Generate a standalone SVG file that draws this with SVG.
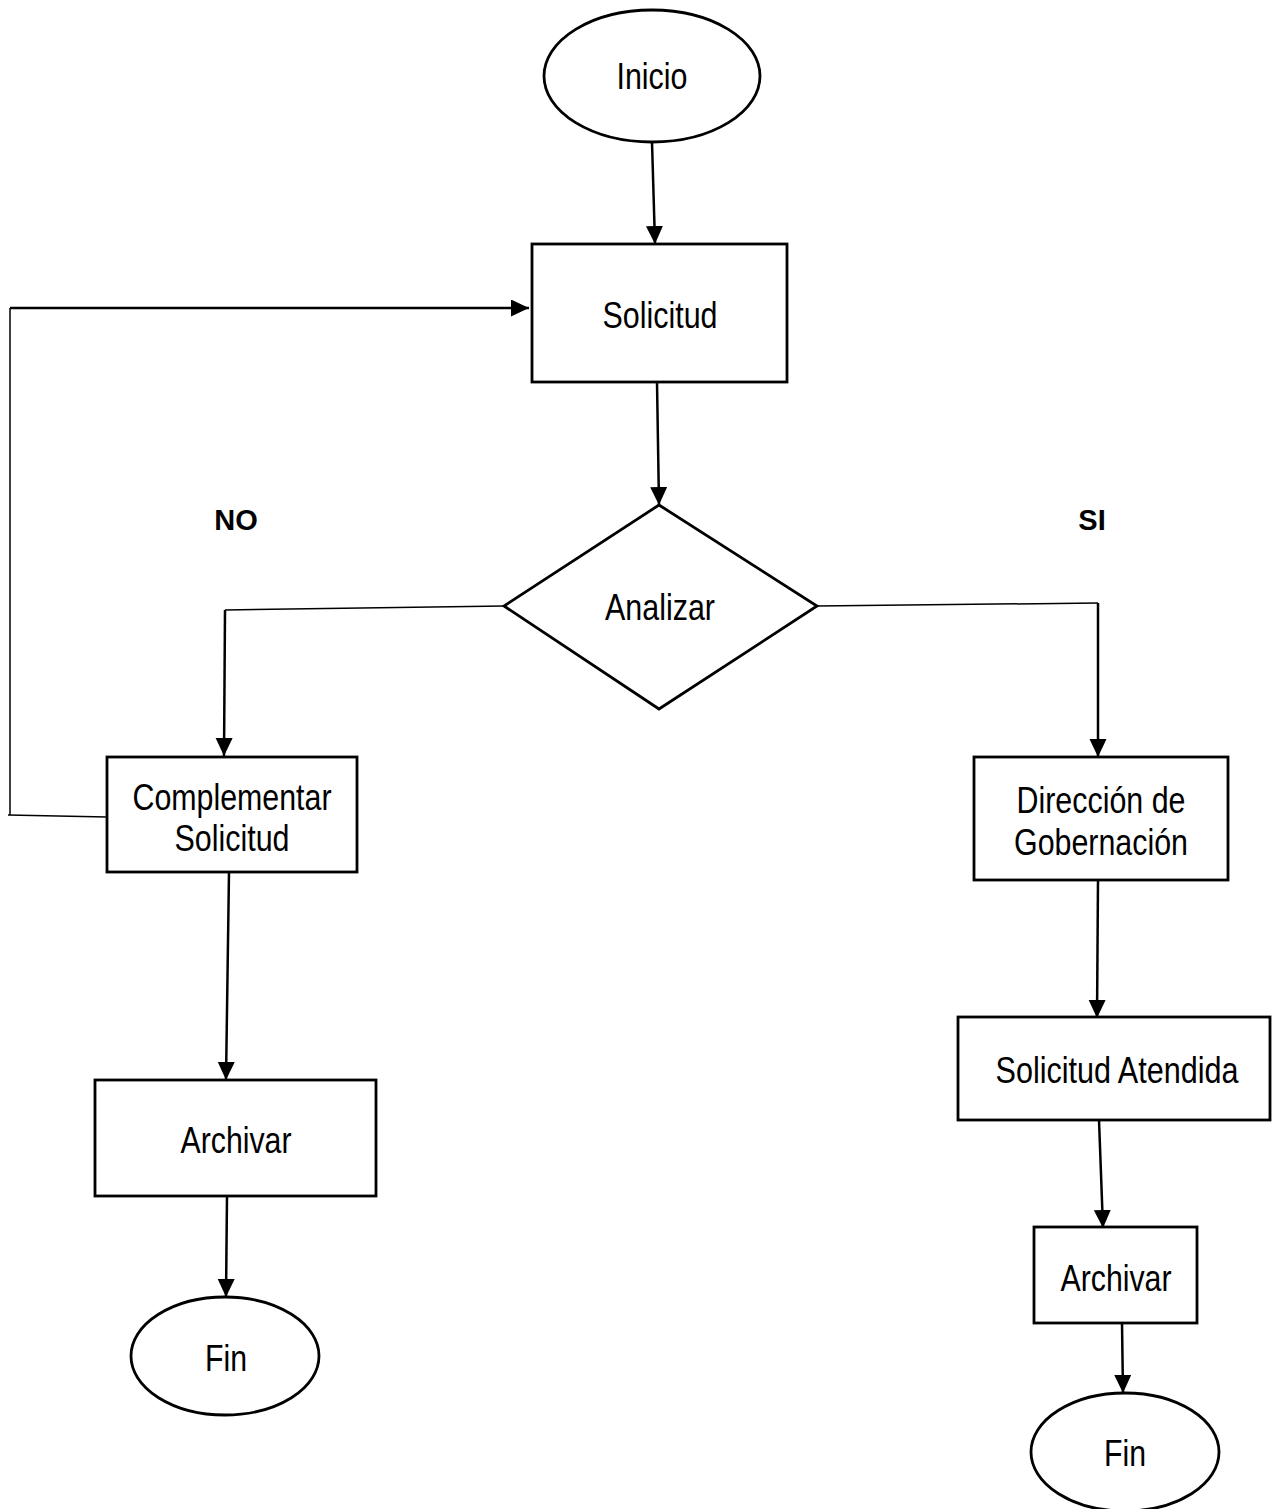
<svg xmlns="http://www.w3.org/2000/svg" width="1272" height="1509" viewBox="0 0 1272 1509">
<style>
.shape{fill:#fff;stroke:#000;stroke-width:2.8}
.t{font-family:"Liberation Sans Narrow","Liberation Sans",Arial,sans-serif;font-size:37px;fill:#000;text-anchor:middle;dominant-baseline:central}
.lbl{font-family:"Liberation Sans",Arial,sans-serif;font-size:29px;font-weight:bold;fill:#000;text-anchor:middle;dominant-baseline:central}
.c{fill:none;stroke:#000;stroke-width:2.5}
.thin{fill:none;stroke:#000;stroke-width:1.5}
</style>
<defs>
<marker id="ah" markerUnits="userSpaceOnUse" markerWidth="20" markerHeight="18" refX="18" refY="8.5" orient="auto">
<path d="M0,0 L18,8.5 L0,17 Z" fill="#000"/>
</marker>
</defs>
<rect width="1272" height="1509" fill="#fff"/>
<g id="connectors">
<line class="c" x1="652" y1="142" x2="655" y2="244" marker-end="url(#ah)"/>
<line class="c" x1="657" y1="382" x2="659" y2="505" marker-end="url(#ah)"/>
<polyline class="thin" points="504,606 225,610"/>
<line class="c" x1="225" y1="610" x2="224" y2="756" marker-end="url(#ah)"/>
<polyline class="thin" points="107,817 8,815"/>
<polyline class="thin" points="10,815 10,308"/>
<line class="c" x1="10" y1="308" x2="529" y2="308" marker-end="url(#ah)"/>
<line class="c" x1="229" y1="872" x2="226" y2="1080" marker-end="url(#ah)"/>
<line class="c" x1="227" y1="1196" x2="226" y2="1297" marker-end="url(#ah)"/>
<polyline class="thin" points="817,606 1098,603"/>
<line class="c" x1="1098" y1="603" x2="1098" y2="757" marker-end="url(#ah)"/>
<line class="c" x1="1098" y1="880" x2="1097" y2="1018" marker-end="url(#ah)"/>
<line class="c" x1="1099" y1="1120" x2="1103" y2="1228" marker-end="url(#ah)"/>
<line class="c" x1="1122" y1="1323" x2="1123" y2="1393" marker-end="url(#ah)"/>
</g>
<g id="inicio">
<ellipse class="shape" cx="652" cy="76" rx="108" ry="66"/>
<text class="t" x="652" y="76" textLength="71" lengthAdjust="spacingAndGlyphs">Inicio</text>
</g>
<g id="solicitud">
<rect class="shape" x="532" y="244" width="255" height="138"/>
<text class="t" x="660" y="315" textLength="115" lengthAdjust="spacingAndGlyphs">Solicitud</text>
</g>
<g id="analizar">
<polygon class="shape" points="659,505 817,606 659,709 504,606"/>
<text class="t" x="660" y="607" textLength="110" lengthAdjust="spacingAndGlyphs">Analizar</text>
</g>
<g id="label-no"><text class="lbl" x="236" y="520">NO</text></g>
<g id="label-si"><text class="lbl" x="1092" y="520">SI</text></g>
<g id="complementar">
<rect class="shape" x="107" y="757" width="250" height="115"/>
<text class="t" x="232" y="797" textLength="199" lengthAdjust="spacingAndGlyphs">Complementar</text>
<text class="t" x="232" y="838" textLength="115" lengthAdjust="spacingAndGlyphs">Solicitud</text>
</g>
<g id="archivar-left">
<rect class="shape" x="95" y="1080" width="281" height="116"/>
<text class="t" x="236" y="1140" textLength="111" lengthAdjust="spacingAndGlyphs">Archivar</text>
</g>
<g id="fin-left">
<ellipse class="shape" cx="225" cy="1356" rx="94" ry="59"/>
<text class="t" x="226" y="1358" textLength="42" lengthAdjust="spacingAndGlyphs">Fin</text>
</g>
<g id="direccion">
<rect class="shape" x="974" y="757" width="254" height="123"/>
<text class="t" x="1101" y="800" textLength="169" lengthAdjust="spacingAndGlyphs">Dirección de</text>
<text class="t" x="1101" y="842" textLength="174" lengthAdjust="spacingAndGlyphs">Gobernación</text>
</g>
<g id="atendida">
<rect class="shape" x="958" y="1017" width="312" height="103"/>
<text class="t" x="1117" y="1070" textLength="243" lengthAdjust="spacingAndGlyphs">Solicitud Atendida</text>
</g>
<g id="archivar-right">
<rect class="shape" x="1034" y="1227" width="163" height="96"/>
<text class="t" x="1116" y="1278" textLength="111" lengthAdjust="spacingAndGlyphs">Archivar</text>
</g>
<g id="fin-right">
<ellipse class="shape" cx="1125" cy="1452" rx="94" ry="59"/>
<text class="t" x="1125" y="1453" textLength="42" lengthAdjust="spacingAndGlyphs">Fin</text>
</g>
</svg>
